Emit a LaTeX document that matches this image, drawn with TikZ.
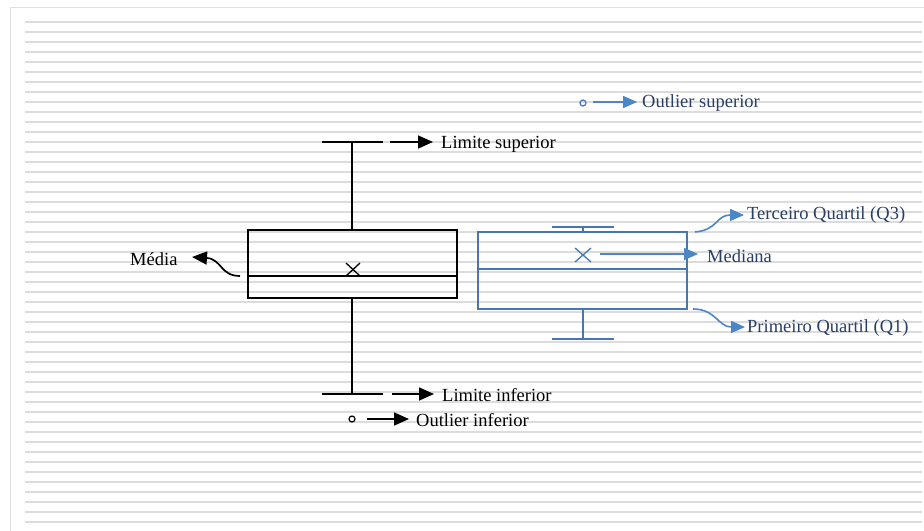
\documentclass[tikz,border=0pt]{standalone}
\usepackage{fontspec}
\setmainfont{Liberation Serif}
\usetikzlibrary{arrows.meta,calc}
\definecolor{rule}{RGB}{220,220,220}
\definecolor{frame}{RGB}{224,224,224}
\definecolor{boxblue}{RGB}{70,118,180}
\definecolor{tipblue}{RGB}{74,134,200}
\definecolor{txtblue}{RGB}{40,62,100}
\tikzset{
  blk/.style={draw=black, line width=1.7bp},
  blu/.style={draw=boxblue, line width=1.8bp},
  blkarrow/.style={draw=black, line width=1.7bp, -{Triangle[length=15bp,width=13bp]}},
  bluarrow/.style={draw=tipblue, line width=1.6bp, -{Triangle[length=14bp,width=12bp]}},
  lbl/.style={anchor=west, inner sep=0pt, font=\fontsize{18.5bp}{22bp}\selectfont, text=black},
  blbl/.style={lbl, text=txtblue},
  xmark/.style={line width=1.3bp},
}
\begin{document}
\begin{tikzpicture}[x=1bp,y=-1bp]
\useasboundingbox (0,0) rectangle (924,531);
\fill[white] (0,0) rectangle (924,531);
% lined paper
\foreach \k in {0,...,50}{
  \draw[rule, line width=1.7bp] (25,22+10*\k) -- (922,22+10*\k);
}
\draw[frame, line width=1bp] (10.5,531) -- (10.5,7.5) -- (924,7.5);

% ---------- black box plot ----------
\draw[blk] (248,230) rectangle (457,298);
\draw[blk] (248,276) -- (457,276);
\draw[blk] (352,142) -- (352,230);
\draw[blk] (352,298) -- (352,394);
\draw[blk] (322,142) -- (383,142);
\draw[blk] (322,394) -- (383,394);
\draw[xmark] (346,263) -- (360,276) (346,276) -- (360,263);
\draw[black, line width=1.2bp] (352,419) circle (3bp);

\coordinate (ls) at (390,142);
\node[lbl] (lsup) at (441,144) {Limite superior};
\draw[blkarrow] (ls) -- ($(ls -| lsup.west)+(-8,0)$);

\coordinate (li) at (392,394);
\node[lbl] (linf) at (442,395) {Limite inferior};
\draw[blkarrow] (li) -- ($(li -| linf.west)+(-8,0)$);

\coordinate (oi) at (367,419);
\node[lbl] (oinf) at (416,420) {Outlier inferior};
\draw[blkarrow] (oi) -- ($(oi -| oinf.west)+(-7,0)$);

\coordinate (md) at (240,276);
\node[lbl] (media) at (130,259) {Média};
\coordinate (mdt) at (192,257);
\draw[blkarrow] (md) .. controls (220,276) and (222,259) .. (mdt);

% ---------- blue box plot ----------
\draw[blu] (478,232) rectangle (687,309);
\draw[blu] (478,269) -- (687,269);
\draw[blu] (583,227) -- (583,232);
\draw[blu] (552,227) -- (614,227);
\draw[blu] (583,309) -- (583,339);
\draw[blu] (552,339) -- (614,339);
\draw[boxblue, xmark] (575,248) -- (591,262) (575,262) -- (591,248);
\draw[boxblue, line width=1.2bp] (583,103) circle (3bp);

\coordinate (os) at (593,102);
\node[blbl] (osup) at (642,103) {Outlier superior};
\draw[bluarrow] (os) -- ($(os -| osup.west)+(-5,0)$);

\coordinate (me) at (600,254);
\node[blbl] (mediana) at (707,256) {Mediana};
\draw[bluarrow] (me) -- ($(me -| mediana.west)+(-9,0)$);

\coordinate (q3s) at (695,232);
\node[blbl] (q3) at (747,215) {Terceiro Quartil (Q3)};
\coordinate (q3t) at (744,215);
\draw[bluarrow] (q3s) .. controls (718,230) and (716,215) .. (q3t);

\coordinate (q1s) at (693,309);
\node[blbl] (q1) at (747,328) {Primeiro Quartil (Q1)};
\coordinate (q1t) at (745,327);
\draw[bluarrow] (q1s) .. controls (716,309) and (718,327) .. (q1t);
\end{tikzpicture}
\end{document}
